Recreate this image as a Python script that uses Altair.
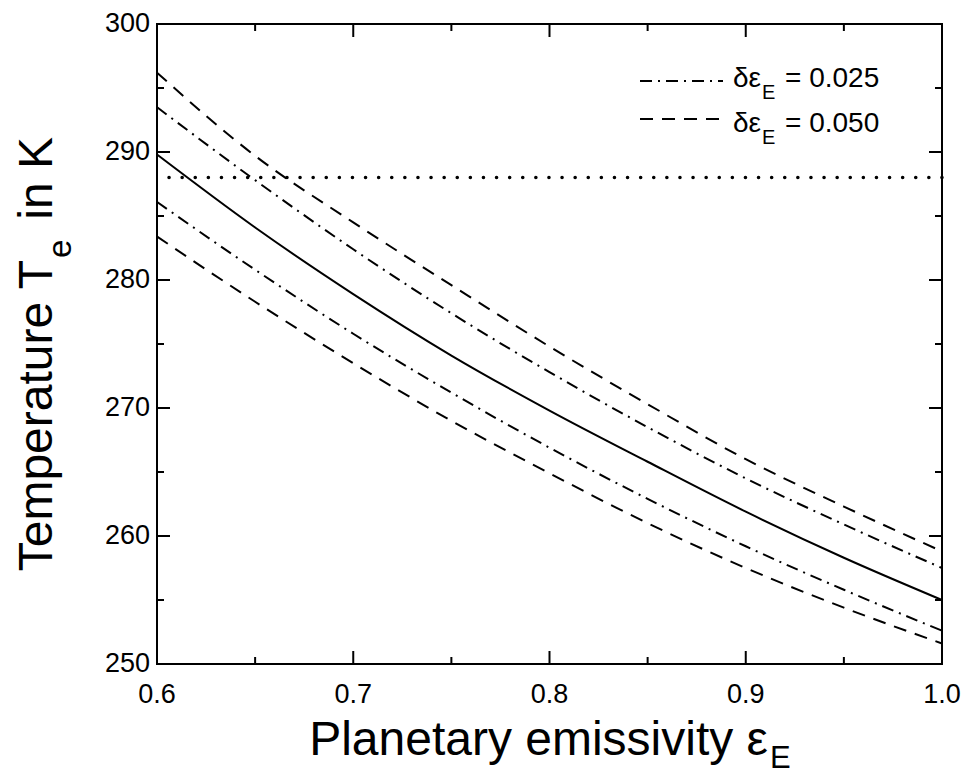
import altair as alt
import pandas as pd

# ---- data ----
eps = [0.60, 0.65, 0.70, 0.75, 0.80, 0.85, 0.90, 0.95, 1.00]
T_base = [289.8, 284.1, 278.9, 274.1, 269.8, 265.8, 261.9, 258.3, 255.0]
T_dd_up = [293.5, 287.8, 282.4, 277.4, 272.8, 268.5, 264.5, 260.9, 257.5]
T_dd_lo = [286.1, 280.8, 275.8, 271.2, 266.9, 262.9, 259.2, 255.8, 252.6]
T_da_up = [296.2, 289.7, 284.5, 279.6, 274.8, 270.3, 266.0, 262.3, 258.8]
T_da_lo = [283.4, 278.3, 273.5, 269.0, 264.9, 261.0, 257.5, 254.4, 251.6]
T_ref = [288.0]

x_major = [0.6, 0.7, 0.8, 0.9, 1.0]
x_minor = [0.65, 0.75, 0.85, 0.95]
y_major = [250, 260, 270, 280, 290, 300]
y_minor = [255, 265, 275, 285, 295]

legend_labels = ["= 0.025", "= 0.050"]

rows = []
for name, vals in [("base", T_base), ("dd_up", T_dd_up), ("dd_lo", T_dd_lo),
                   ("da_up", T_da_up), ("da_lo", T_da_lo)]:
    for e, t in zip(eps, vals):
        rows.append({"eps": e, "T": t, "curve": name})
df = pd.DataFrame(rows)

W, H = 785, 640
FONT = "Liberation Sans, Arial, Helvetica, sans-serif"

xs = alt.Scale(domain=[0.6, 1.0], nice=False, zero=False)
ys = alt.Scale(domain=[250, 300], nice=False, zero=False)

X = alt.X("eps:Q", scale=xs, axis=None)
Y = alt.Y("T:Q", scale=ys, axis=None)

base = alt.Chart(df)
solid = base.transform_filter(alt.datum.curve == "base").mark_line(
    color="black", strokeWidth=2, interpolate="monotone").encode(x=X, y=Y)
dashdot = base.transform_filter(
    (alt.datum.curve == "dd_up") | (alt.datum.curve == "dd_lo")).mark_line(
    color="black", strokeWidth=2, interpolate="monotone", strokeDash=[12, 6, 2, 6]).encode(
    x=X, y=Y, detail="curve:N")
dashed = base.transform_filter(
    (alt.datum.curve == "da_up") | (alt.datum.curve == "da_lo")).mark_line(
    color="black", strokeWidth=2, interpolate="monotone", strokeDash=[13, 9]).encode(
    x=X, y=Y, detail="curve:N")

ref = alt.Chart(pd.DataFrame({"T": T_ref})).mark_rule(
    color="black", strokeWidth=3.5, strokeDash=[0.1, 13], strokeCap="round").encode(
    y=alt.Y("T:Q", scale=ys, axis=None))

# inward ticks on all four sides
def xticks(vals, length):
    d = alt.Chart(pd.DataFrame({"v": vals}))
    xe = alt.X("v:Q", scale=xs, axis=None)
    bot = d.mark_rule(color="black", strokeWidth=2).encode(
        x=xe, y=alt.value(H), y2=alt.value(H - length))
    top = d.mark_rule(color="black", strokeWidth=2).encode(
        x=xe, y=alt.value(0), y2=alt.value(length))
    return [bot, top]

def yticks(vals, length):
    d = alt.Chart(pd.DataFrame({"v": vals}))
    ye = alt.Y("v:Q", scale=ys, axis=None)
    lft = d.mark_rule(color="black", strokeWidth=2).encode(
        y=ye, x=alt.value(0), x2=alt.value(length))
    rgt = d.mark_rule(color="black", strokeWidth=2).encode(
        y=ye, x=alt.value(W), x2=alt.value(W - length))
    return [lft, rgt]

ticks = xticks(x_major, 13) + xticks(x_minor, 7) + yticks(y_major, 13) + yticks(y_minor, 7)

# tick labels
xlab = alt.Chart(pd.DataFrame({"v": x_major})).mark_text(
    font=FONT, fontSize=27, align="center", baseline="alphabetic", color="black").encode(
    x=alt.X("v:Q", scale=xs, axis=None), y=alt.value(H + 39),
    text=alt.Text("v:Q", format=".1f"))
ylab = alt.Chart(pd.DataFrame({"v": y_major})).mark_text(
    font=FONT, fontSize=27, align="right", baseline="middle", color="black").encode(
    y=alt.Y("v:Q", scale=ys, axis=None), x=alt.value(-7),
    text=alt.Text("v:Q", format="d"))

one = pd.DataFrame({"a": [0]})

def txt(s, x, y, size, align="left", angle=None):
    kw = dict(text=s, font=FONT, fontSize=size, align=align, baseline="alphabetic", color="black")
    if angle is not None:
        kw["angle"] = angle
    return alt.Chart(one).mark_text(**kw).encode(x=alt.value(x), y=alt.value(y))

texts = [
    # y title
    txt("Temperature T", -105, 236, 48, align="right", angle=270),
    txt("e", -86, 234, 33, align="left", angle=270),
    txt("in K", -105, 113, 48, align="right", angle=270),
    # x title
    txt("Planetary emissivity \u03b5", 611, 731, 48, align="right"),
    txt("E", 613, 744, 31, align="left"),
    # legend
    txt("\u03b4\u03b5", 604, 63, 28, align="right"),
    txt("E", 605, 75, 20, align="left"),
    txt(legend_labels[0], 628, 63, 28, align="left"),
    txt("\u03b4\u03b5", 604, 108, 28, align="right"),
    txt("E", 605, 120, 20, align="left"),
    txt(legend_labels[1], 628, 108, 28, align="left"),
]

leg_lines = [
    alt.Chart(one).mark_rule(color="black", strokeWidth=2, strokeDash=[12, 6, 2, 6]).encode(
        x=alt.value(483), x2=alt.value(566), y=alt.value(57)),
    alt.Chart(one).mark_rule(color="black", strokeWidth=2, strokeDash=[13, 9]).encode(
        x=alt.value(483), x2=alt.value(566), y=alt.value(95)),
]

chart = alt.layer(ref, solid, dashdot, dashed, *ticks, xlab, ylab, *leg_lines, *texts).properties(
    width=W, height=H,
    padding={"left": 149, "top": 16, "right": 20, "bottom": 110},
    autosize=alt.AutoSizeParams(type="none"),
    background="white",
).configure_view(stroke="black", strokeWidth=2)

chart.save("out.html", embed_options={"renderer": "svg", "actions": False})
